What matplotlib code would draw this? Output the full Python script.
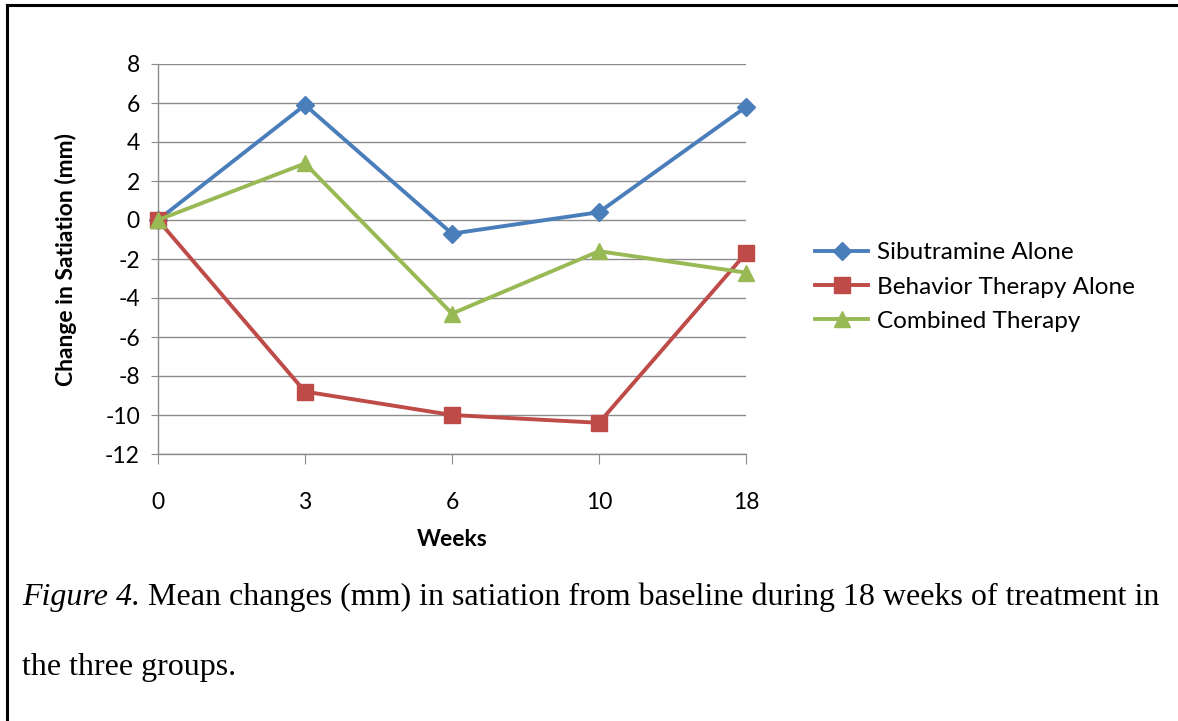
import numpy as np
import matplotlib
matplotlib.use("Agg")
import matplotlib.pyplot as plt
from matplotlib.lines import Line2D

plt.rcParams["axes.unicode_minus"] = False

weeks = ["0", "3", "6", "10", "18"]
sibutramine = [0, 5.9, -0.7, 0.4, 5.8]
behavior = [0, -8.8, -10.0, -10.4, -1.7]
combined = [0, 2.9, -4.8, -1.6, -2.7]
series_names = ["Sibutramine Alone", "Behavior Therapy Alone", "Combined Therapy"]

W, H = 1178, 721
fig = plt.figure(figsize=(W / 100, H / 100), dpi=100)
ax = fig.add_axes([158 / W, 1 - 454 / H, (746 - 158) / W, (454 - 64) / H])

x = np.arange(len(weeks))
ax.plot(x, sibutramine, color="#4A7EBB", lw=2.8, marker="D", ms=9,
        label=series_names[0], clip_on=False, zorder=3)
ax.plot(x, behavior, color="#BE4B48", lw=2.8, marker="s", ms=11,
        label=series_names[1], clip_on=False, zorder=3)
ax.plot(x, combined, color="#98B954", lw=2.8, marker="^", ms=12,
        label=series_names[2], clip_on=False, zorder=3)

ax.set_xlim(0, len(weeks) - 1)
ax.set_ylim(-12, 8)
ax.set_yticks(np.arange(-12, 9, 2))
ax.set_xticks(x)
ax.set_xticklabels(weeks)
ax.grid(axis="y", color="#8c8c8c", lw=1)
ax.set_axisbelow(True)
for s in ["top", "right"]:
    ax.spines[s].set_visible(False)
for s in ["left", "bottom"]:
    ax.spines[s].set_color("#8c8c8c")
    ax.spines[s].set_linewidth(1)
ax.tick_params(axis="x", direction="out", length=7, color="#8c8c8c", pad=20,
               labelsize=16.5)
ax.tick_params(axis="y", direction="out", length=5, color="#8c8c8c", pad=8,
               labelsize=16.5)
for lab in ax.get_xticklabels() + ax.get_yticklabels():
    lab.set_family("Lato")

ax.set_xlabel("Weeks", fontsize=16.5, fontweight="bold", family="Lato", labelpad=12)
ax.set_ylabel("Change in Satiation (mm)", fontsize=16.5, fontweight="bold",
              family="Lato", labelpad=20)

fig.legend(loc="center left", bbox_to_anchor=(815 / W, 1 - 287 / H), frameon=False,
           prop={"family": "Lato", "size": 17.5}, handlelength=2.2, handletextpad=0.35,
           labelspacing=0.55, borderpad=0, borderaxespad=0)

# caption
cap_y = 1 - 597 / H
t1 = fig.text(22 / W, cap_y, "Figure 4.", family="Liberation Serif", style="italic",
              fontsize=23, va="center")
fig.canvas.draw()
bb = t1.get_window_extent(renderer=fig.canvas.get_renderer())
fig.text(bb.x1 / W, cap_y,
         " Mean changes (mm) in satiation from baseline during 18 weeks of treatment in",
         family="Liberation Serif", fontsize=23, va="center")
fig.text(22 / W, 1 - 668 / H, "the three groups.", family="Liberation Serif",
         fontsize=23, va="center")

# page border
fig.add_artist(Line2D([7 / W, 1], [1 - 5 / H, 1 - 5 / H], color="black", lw=2.2))
fig.add_artist(Line2D([7 / W, 7 / W], [0, 1 - 5 / H], color="black", lw=2.2))

fig.savefig("out.png", dpi=100)
